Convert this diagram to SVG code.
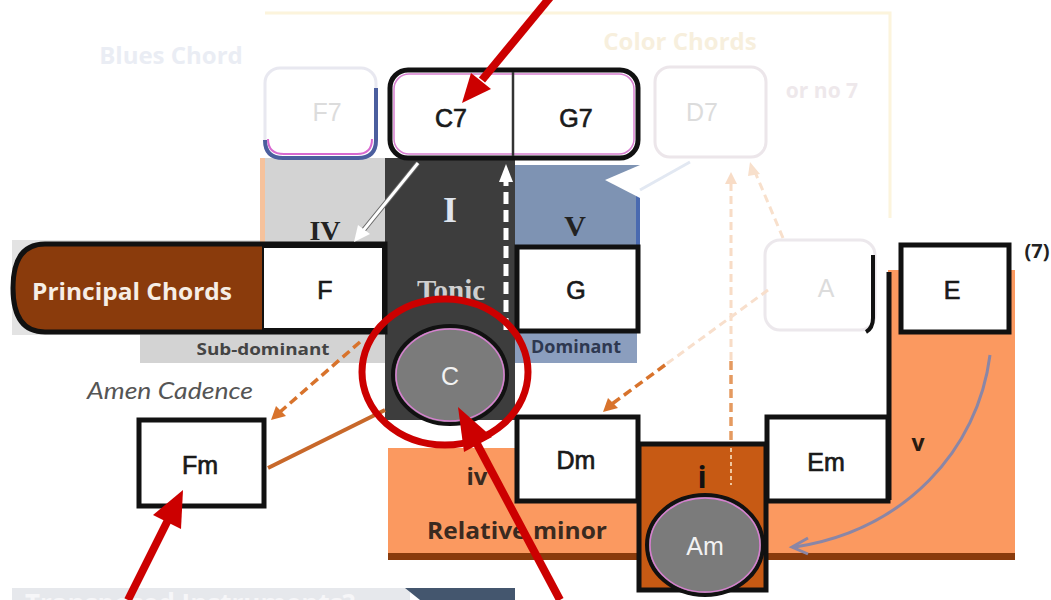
<svg xmlns="http://www.w3.org/2000/svg" width="1051" height="600" viewBox="0 0 1051 600">
<defs>
<style>
.chord{font-family:"Liberation Sans",Arial,sans-serif;font-size:25px;fill:#1a1a1a;stroke:#1a1a1a;stroke-width:0.7px;text-anchor:middle}
.faint{font-family:"Liberation Sans",Arial,sans-serif;font-size:25px;fill:#dcdcdc;text-anchor:middle}
.roman{font-family:"Liberation Serif","Times New Roman",serif;font-weight:bold;text-anchor:middle}
.lbl{font-family:"Open Sans","Liberation Sans",sans-serif;font-weight:bold;text-anchor:middle}
.box{fill:#fff;stroke:#111;stroke-width:5}
.inner{fill:none;stroke:#d77fd0;stroke-width:1.5}
.red{stroke:#cc0000;stroke-width:8;fill:none}
.redh{fill:#cc0000}
</style>
</defs>
<rect width="1051" height="600" fill="#fff"/>

<g id="background-labels">
<polyline points="265,13 890,13 890,218" fill="none" stroke="#fcf4dc" stroke-width="3"/>
<text x="171" y="64" class="lbl" font-size="24" fill="#eaedf4">Blues Chord</text>
<text x="680" y="50" class="lbl" font-size="24" fill="#f7efdd">Color Chords</text>
<text x="822" y="98" class="lbl" font-size="21" fill="#eee8eb">or no 7</text>
</g>

<g id="regions">
<rect x="12" y="240" width="373" height="95" fill="#e3e3e3"/>
<rect x="140" y="333" width="245" height="30" fill="#d3d3d3"/>
<rect x="260" y="158" width="125" height="88" fill="#d3d3d3"/>
<rect x="260" y="158" width="5" height="88" fill="#f6c29c"/>
<rect x="515" y="165" width="125" height="82" fill="#7e93b3"/>
<rect x="636" y="192" width="4" height="55" fill="#4a6ab0"/>
<rect x="515" y="333" width="122" height="30" fill="#8b9ebe"/>
<rect x="385" y="158" width="130" height="262" fill="#3d3d3d"/>
<rect x="388" y="448" width="627" height="110" fill="#fb9960"/>
<rect x="888" y="270" width="127" height="290" fill="#fb9960"/>
<rect x="388" y="553" width="627" height="7" fill="#8a3b0c"/>
<line x1="889" y1="272" x2="889" y2="500" stroke="#111" stroke-width="5"/>
<polygon points="605,180 640,165 640,198" fill="#fff"/>
<line x1="640" y1="190" x2="690" y2="162" stroke="#e2e8f2" stroke-width="3"/>
</g>

<g id="node-f7">
<rect x="265" y="68" width="111" height="90" rx="15" fill="#fff" stroke="#e8e8f0" stroke-width="3"/>
<path d="M265 140 Q265 158 283 158 H358 Q376 158 376 140 V88" fill="none" stroke="#4b5e9e" stroke-width="4"/>
<path d="M268 139 Q268 154 284 154 H357 Q372 154 372 139" fill="none" stroke="#d86ad0" stroke-width="2"/>
<text x="327" y="121" class="faint">F7</text>
</g>

<g id="node-d7">
<rect x="655" y="67" width="111" height="90" rx="15" fill="#fff" stroke="#ece6ea" stroke-width="3"/>
<text x="702" y="121" class="faint">D7</text>
</g>

<g id="node-a">
<rect x="765" y="240" width="110" height="90" rx="15" fill="#fff" stroke="#ece8ec" stroke-width="3"/>
<path d="M873 255 V318 Q873 328 866 332" fill="none" stroke="#111" stroke-width="4"/>
<text x="826" y="297" class="faint">A</text>
</g>

<g id="node-c7-g7">
<rect x="390" y="70" width="248" height="88" rx="18" fill="#fff" stroke="#111" stroke-width="5"/>
<rect x="394" y="74" width="240" height="80" rx="15" class="inner"/>
<line x1="513" y1="72" x2="513" y2="156" stroke="#333" stroke-width="2.5"/>
<text x="451" y="127" class="chord">C7</text>
<text x="576" y="127" class="chord">G7</text>
</g>

<g id="node-principal">
<path d="M385 244 H45 Q13 244 13 288 Q13 332 45 332 H385 Z" fill="#8a3b0c" stroke="#111" stroke-width="5"/>
<rect x="263" y="247" width="120" height="82" fill="#fff" stroke="#111" stroke-width="2"/>
<text x="132" y="300" class="lbl" font-size="23" fill="#f6eee6" textLength="200" lengthAdjust="spacingAndGlyphs">Principal Chords</text>
<text x="325" y="299" class="chord">F</text>
</g>

<g id="node-roman">
<text x="325" y="240" class="roman" font-size="28" fill="#222">IV</text>
<text x="450" y="222" class="roman" font-size="36" fill="#dfe4ee">I</text>
<text x="575" y="236" class="roman" font-size="30" fill="#222">V</text>
<text x="451" y="300" class="roman" font-size="29" fill="#cfcfcf">Tonic</text>
<text x="263" y="355" class="lbl" font-size="16" fill="#444" textLength="133" lengthAdjust="spacingAndGlyphs">Sub-dominant</text>
<text x="576" y="353" class="lbl" font-size="17" fill="#2e3850" textLength="90" lengthAdjust="spacingAndGlyphs">Dominant</text>
</g>

<g id="node-g">
<rect x="517" y="247" width="121" height="84" class="box"/>
<text x="576" y="299" class="chord">G</text>
</g>

<g id="node-c">
<ellipse cx="450" cy="375" rx="57" ry="49" fill="#7b7b7b" stroke="#111" stroke-width="4"/>
<ellipse cx="450" cy="375" rx="54" ry="46" fill="none" stroke="#d77fd0" stroke-width="1.5"/>
<text x="450" y="385" class="chord" style="fill:#f2f2f2;stroke:none">C</text>
</g>

<g id="node-fm">
<rect x="139" y="420" width="125" height="86" class="box"/>
<text x="200" y="474" class="chord" font-size="26">Fm</text>
<text x="170" y="399" font-family="Lato,'Open Sans',sans-serif" font-style="italic" font-size="24" fill="#555" text-anchor="middle" textLength="166" lengthAdjust="spacingAndGlyphs">Amen Cadence</text>
</g>

<g id="node-dm">
<rect x="517" y="417" width="121" height="84" class="box"/>
<text x="576" y="469" class="chord">Dm</text>
</g>

<g id="node-em">
<rect x="767" y="417" width="121" height="84" class="box"/>
<text x="826" y="471" class="chord">Em</text>
</g>

<g id="node-e">
<rect x="901" y="245" width="108" height="87" class="box"/>
<text x="952" y="299" class="chord">E</text>
<text x="1037" y="258" class="lbl" font-size="20" fill="#222">(7)</text>
</g>

<g id="node-relative-minor">
<text x="477" y="485" class="lbl" font-size="24" fill="#3a2a20">iv</text>
<text x="517" y="539" class="lbl" font-size="23" fill="#3a2a20" textLength="180" lengthAdjust="spacingAndGlyphs">Relative minor</text>
<text x="918" y="451" class="lbl" font-size="23" fill="#2a1a10">v</text>
</g>

<g id="node-am">
<rect x="639" y="444" width="127" height="146" fill="#c75a14" stroke="#111" stroke-width="5"/>
<text x="702" y="488" class="lbl" font-size="30" fill="#111">i</text>
<ellipse cx="705" cy="545" rx="58" ry="50" fill="#7b7b7b" stroke="#111" stroke-width="4"/>
<ellipse cx="705" cy="545" rx="55" ry="47" fill="none" stroke="#d77fd0" stroke-width="1.5"/>
<text x="705" y="555" class="chord" style="fill:#f2f2f2;stroke:none">Am</text>
</g>

<g id="node-bottom-bar">
<rect x="12" y="588" width="398" height="12" fill="#e6e8ec"/>
<polygon points="405,588 515,588 515,600 420,600" fill="#44566e"/>
<text x="25" y="613" font-family="'Open Sans','Liberation Sans',sans-serif" font-weight="bold" font-size="26" fill="#f6f6f8">Transposed Instruments?</text>
</g>

<g id="connectors">
<line x1="783" y1="238" x2="755" y2="172" stroke="#f8e0cc" stroke-width="3" stroke-dasharray="8 5"/>
<polygon points="750,162 760,174 748,176" fill="#f8e0cc"/>
<line x1="731" y1="360" x2="731" y2="182" stroke="#f8dcc6" stroke-width="3" stroke-dasharray="8 5"/>
<polygon points="731,172 737,184 725,184" fill="#f8dcc6"/>
<line x1="731" y1="440" x2="731" y2="360" stroke="#e59a60" stroke-width="3.5" stroke-dasharray="9 5"/>
<line x1="731" y1="448" x2="731" y2="485" stroke="#f0c8a0" stroke-width="2" stroke-dasharray="4 3"/>
<line x1="768" y1="290" x2="665" y2="365" stroke="#f8dfcc" stroke-width="3" stroke-dasharray="8 5"/>
<line x1="665" y1="365" x2="612" y2="404" stroke="#d8732c" stroke-width="3.5" stroke-dasharray="9 5"/>
<polygon points="603,412 608,398 618,408" fill="#d8732c"/>
<line x1="360" y1="342" x2="280" y2="412" stroke="#d8732c" stroke-width="3.5" stroke-dasharray="9 5"/>
<polygon points="271,420 276,406 286,416" fill="#d8732c"/>
<line x1="268" y1="468" x2="385" y2="410" stroke="#c8682a" stroke-width="4"/>
<line x1="418" y1="163" x2="362" y2="232" stroke="#666" stroke-width="5"/>
<line x1="418" y1="163" x2="362" y2="232" stroke="#fff" stroke-width="3"/>
<polygon points="354,242 358,225 370,234" fill="#fff"/>
<line x1="506" y1="330" x2="506" y2="180" stroke="#fff" stroke-width="5" stroke-dasharray="12 6"/>
<polygon points="506,164 513,182 499,182" fill="#fff"/>
<path d="M990 355 C 978 450, 905 530, 795 547" fill="none" stroke="#8a86a6" stroke-width="3"/>
<polyline points="808,538 792,547 808,554" fill="none" stroke="#8a86a6" stroke-width="3"/>
</g>

<g id="annotations">
<ellipse cx="445" cy="372" rx="83" ry="73" fill="none" stroke="#cc0000" stroke-width="7"/>
<line x1="552" y1="-5" x2="482" y2="80" class="red"/>
<polygon points="462,103 491,89 471,73" class="redh"/>
<line x1="560" y1="600" x2="476" y2="442" class="red"/>
<polygon points="458,407 492,437 464,452" class="redh"/>
<line x1="128" y1="600" x2="169" y2="518" class="red"/>
<polygon points="183,490 181,529 153,515" class="redh"/>
</g>
</svg>
